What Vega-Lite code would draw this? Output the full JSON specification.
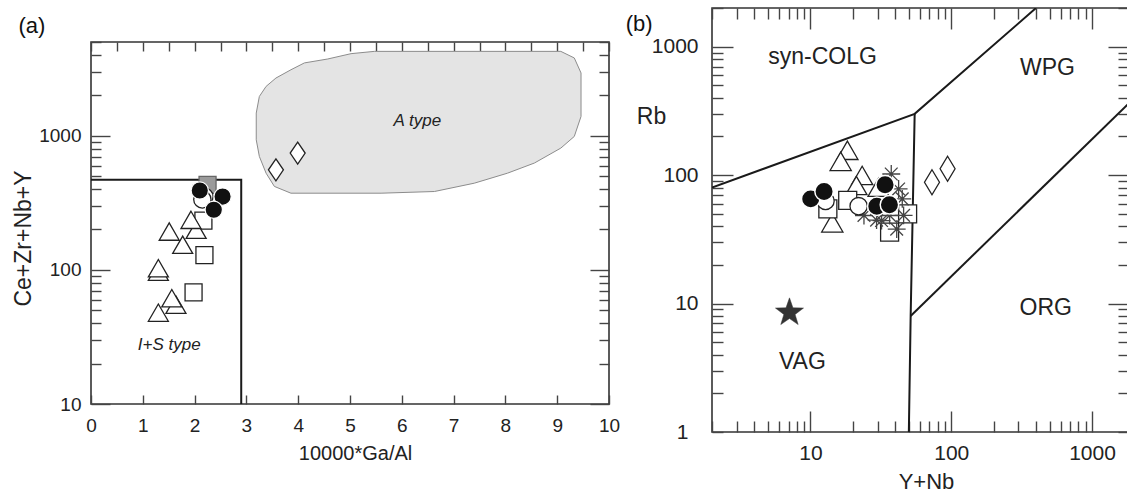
{
  "$schema": "https://vega.github.io/schema/vega-lite/v6.json",
  "background": "white",
  "padding": {"left": 11, "top": -4, "right": 0, "bottom": 0},
  "spacing": 3,
  "config": {
    "font": "Liberation Sans",
    "view": {"stroke": "#333", "strokeWidth": 1.6},
    "axis": {"grid": false, "domain": false, "tickColor": "#444", "tickWidth": 1.4, "labelColor": "#222", "titleColor": "#222", "labelFlush": false, "labelOverlap": false, "titleFontWeight": "normal", "labelFont": "Liberation Sans", "titleFont": "Liberation Sans"},
    "text": {"font": "Liberation Sans", "color": "#222"}
  },
  "hconcat": [
    {
      "spacing": 0,
      "vconcat": [
        {
          "width": 518,
          "height": 4,
          "view": {"stroke": null},
          "data": {"values": [{"k": 1}]},
          "mark": {"type": "point", "opacity": 0},
          "encoding": {}
        },
        {
          "width": 518,
          "height": 362,
          "data": {"values": [
            {"ga": 2.17, "sum": 233, "sym": "sq"},
            {"ga": 2.19, "sum": 129, "sym": "sq"},
            {"ga": 1.98, "sum": 68, "sym": "sq"},
            {"ga": 2.25, "sum": 430, "sym": "sqg"},
            {"ga": 1.64, "sum": 55, "sym": "tri"},
            {"ga": 1.56, "sum": 61.5, "sym": "tri"},
            {"ga": 1.30, "sum": 48, "sym": "tri"},
            {"ga": 1.30, "sum": 97, "sym": "tri"},
            {"ga": 1.30, "sum": 103, "sym": "tri"},
            {"ga": 1.77, "sum": 154, "sym": "tri"},
            {"ga": 1.51, "sum": 193, "sym": "tri"},
            {"ga": 2.03, "sum": 199, "sym": "tri"},
            {"ga": 1.93, "sum": 236, "sym": "tri"},
            {"ga": 2.19, "sum": 352, "sym": "cw"},
            {"ga": 2.15, "sum": 335, "sym": "cw"},
            {"ga": 2.10, "sum": 391, "sym": "cb"},
            {"ga": 2.54, "sum": 352, "sym": "cb"},
            {"ga": 2.37, "sum": 281, "sym": "cb"},
            {"ga": 3.57, "sum": 557, "sym": "dia"},
            {"ga": 3.99, "sum": 743, "sym": "dia"}
          ]},
          "layer": [
            {
              "data": {"values": [
                {"i": 0, "ga": 5.02, "sum": 4093}, {"i": 1, "ga": 5.47, "sum": 4257}, {"i": 2, "ga": 9.07, "sum": 4257},
                {"i": 3, "ga": 9.33, "sum": 3802}, {"i": 4, "ga": 9.46, "sum": 2938}, {"i": 5, "ga": 9.46, "sum": 1393},
                {"i": 6, "ga": 9.33, "sum": 988}, {"i": 7, "ga": 9.07, "sum": 809}, {"i": 8, "ga": 8.56, "sum": 626},
                {"i": 9, "ga": 8.04, "sum": 526}, {"i": 10, "ga": 7.40, "sum": 443}, {"i": 11, "ga": 6.63, "sum": 384},
                {"i": 12, "ga": 5.60, "sum": 373}, {"i": 13, "ga": 3.86, "sum": 373}, {"i": 14, "ga": 3.54, "sum": 419},
                {"i": 15, "ga": 3.38, "sum": 526}, {"i": 16, "ga": 3.25, "sum": 701}, {"i": 17, "ga": 3.19, "sum": 933},
                {"i": 18, "ga": 3.19, "sum": 1476}, {"i": 19, "ga": 3.25, "sum": 1963}, {"i": 20, "ga": 3.38, "sum": 2333},
                {"i": 21, "ga": 3.57, "sum": 2693}, {"i": 22, "ga": 3.86, "sum": 3105}, {"i": 23, "ga": 4.12, "sum": 3492},
                {"i": 24, "ga": 4.57, "sum": 3735}, {"i": 25, "ga": 5.02, "sum": 4093}
              ]},
              "mark": {"type": "line", "fill": "#e4e4e4", "stroke": "#8c8c8c", "strokeWidth": 1},
              "encoding": {
                "x": {"field": "ga", "type": "quantitative", "scale": {"domain": [0, 10], "nice": false, "zero": false},
                  "axis": {"orient": "bottom", "values": [0,0.5,1,1.5,2,2.5,3,3.5,4,4.5,5,5.5,6,6.5,7,7.5,8,8.5,9,9.5,10],
                    "format": "d", "labelExpr": "datum.value % 1 === 0 ? datum.label : ''", "tickSize": -9, "labelPadding": 21.5,
                    "labelFontSize": 19, "title": "10000*Ga/Al", "titleFontSize": 20, "titleX": 264, "titleY": 49,
                    "titleBaseline": "middle", "titleAlign": "center"}},
                "y": {"field": "sum", "type": "quantitative", "scale": {"type": "log", "domain": [10, 5000], "nice": false},
                  "axis": {"orient": "left", "values": [10,20,30,40,50,60,70,80,90,100,200,300,400,500,600,700,800,900,1000,2000,3000,4000,5000],
                    "format": "d", "labelExpr": "datum.value == 10 || datum.value == 100 || datum.value == 1000 ? datum.label : ''",
                    "tickSize": {"condition": {"test": "datum.value == 10 || datum.value == 100 || datum.value == 1000", "value": -19}, "value": -10},
                    "labelPadding": 29, "labelFontSize": 19, "title": "Ce+Zr+Nb+Y", "titleFontSize": 23, "titleX": -68, "titleY": 196,
                    "titleBaseline": "middle", "titleAlign": "center", "titleAngle": -90}},
                "order": {"field": "i", "type": "quantitative"}
              }
            },
            {
              "data": {"values": [
                {"i": 0, "ga": 0, "sum": 470}, {"i": 1, "ga": 2.9, "sum": 470}, {"i": 2, "ga": 2.9, "sum": 10}
              ]},
              "mark": {"type": "line", "stroke": "#1a1a1a", "strokeWidth": 2},
              "encoding": {
                "x": {"field": "ga", "type": "quantitative", "axis": null},
                "y": {"field": "sum", "type": "quantitative", "axis": null},
                "order": {"field": "i", "type": "quantitative"}
              }
            },
            {
              "transform": [{"filter": "datum.sym === 'sq'"}],
              "mark": {"type": "point", "shape": "square", "size": 289, "filled": true, "fill": "white", "stroke": "#222", "strokeWidth": 1.3, "opacity": 1},
              "encoding": {"x": {"field": "ga", "type": "quantitative", "axis": null}, "y": {"field": "sum", "type": "quantitative", "axis": null}}
            },
            {
              "transform": [{"filter": "datum.sym === 'sqg'"}],
              "mark": {"type": "point", "shape": "square", "size": 289, "filled": true, "fill": "#9a9a9a", "stroke": "#666", "strokeWidth": 1.3, "opacity": 1},
              "encoding": {"x": {"field": "ga", "type": "quantitative", "axis": null}, "y": {"field": "sum", "type": "quantitative", "axis": null}}
            },
            {
              "transform": [{"filter": "datum.sym === 'tri'"}],
              "mark": {"type": "point", "shape": "triangle-up", "size": 400, "filled": true, "fill": "white", "stroke": "#222", "strokeWidth": 1.3, "opacity": 1},
              "encoding": {"x": {"field": "ga", "type": "quantitative", "axis": null}, "y": {"field": "sum", "type": "quantitative", "axis": null}}
            },
            {
              "transform": [{"filter": "datum.sym === 'cw'"}],
              "mark": {"type": "point", "shape": "circle", "size": 300, "filled": true, "fill": "white", "stroke": "#222", "strokeWidth": 1.3, "opacity": 1},
              "encoding": {"x": {"field": "ga", "type": "quantitative", "axis": null}, "y": {"field": "sum", "type": "quantitative", "axis": null}}
            },
            {
              "transform": [{"filter": "datum.sym === 'cb'"}],
              "mark": {"type": "point", "shape": "circle", "size": 300, "filled": true, "fill": "#111", "stroke": "white", "strokeWidth": 1.2, "opacity": 1},
              "encoding": {"x": {"field": "ga", "type": "quantitative", "axis": null}, "y": {"field": "sum", "type": "quantitative", "axis": null}}
            },
            {
              "transform": [{"filter": "datum.sym === 'dia'"}],
              "mark": {"type": "point", "shape": "M0,-1L0.68,0L0,1L-0.68,0Z", "size": 484, "filled": true, "fill": "white", "stroke": "#222", "strokeWidth": 1.3, "opacity": 1},
              "encoding": {"x": {"field": "ga", "type": "quantitative", "axis": null}, "y": {"field": "sum", "type": "quantitative", "axis": null}}
            },
            {
              "data": {"values": [
                {"ga": 6.3, "sum": 1280, "label": "A type"},
                {"ga": 1.51, "sum": 27.5, "label": "I+S type"}
              ]},
              "mark": {"type": "text", "fontSize": 17, "fontStyle": "italic", "align": "center", "baseline": "middle", "color": "#222"},
              "encoding": {"x": {"field": "ga", "type": "quantitative", "axis": null}, "y": {"field": "sum", "type": "quantitative", "axis": null}, "text": {"field": "label"}}
            },
            {
              "data": {"values": [{"ga": -1.14, "sum": 6620, "label": "(a)"}]},
              "mark": {"type": "text", "fontSize": 22, "align": "center", "baseline": "middle", "color": "#111"},
              "encoding": {"x": {"field": "ga", "type": "quantitative", "axis": null}, "y": {"field": "sum", "type": "quantitative", "axis": null}, "text": {"field": "label"}}
            },
            {
              "data": {"values": [{"ga": 5, "sum": 100}]},
              "mark": {"type": "point", "opacity": 0},
              "encoding": {
                "x": {"field": "ga", "type": "quantitative",
                  "axis": {"orient": "top", "values": [0,0.5,1,1.5,2,2.5,3,3.5,4,4.5,5,5.5,6,6.5,7,7.5,8,8.5,9,9.5,10], "labels": false, "tickSize": -9, "title": null}},
                "y": {"field": "sum", "type": "quantitative",
                  "axis": {"orient": "right", "values": [10,20,30,40,50,60,70,80,90,100,200,300,400,500,600,700,800,900,1000,2000,3000,4000,5000], "labels": false,
                    "tickSize": {"condition": {"test": "datum.value == 10 || datum.value == 100 || datum.value == 1000", "value": -19}, "value": -10}, "title": null}}
              }
            }
          ],
          "resolve": {"axis": {"x": "independent", "y": "independent"}}
        }
      ]
    },
    {
      "width": 417,
      "height": 424,
      "data": {"values": [
        {"yn": 18.3, "rb": 156, "sym": "tri"},
        {"yn": 16.4, "rb": 128, "sym": "tri"},
        {"yn": 23.3, "rb": 99.5, "sym": "tri"},
        {"yn": 21.2, "rb": 83, "sym": "tri"},
        {"yn": 30.5, "rb": 80.6, "sym": "tri"},
        {"yn": 14.3, "rb": 42.5, "sym": "tri"},
        {"yn": 13.3, "rb": 54.6, "sym": "sq"},
        {"yn": 18.4, "rb": 63.6, "sym": "sq"},
        {"yn": 49, "rb": 49.9, "sym": "sq"},
        {"yn": 36.5, "rb": 36, "sym": "sq"},
        {"yn": 37.5, "rb": 102, "sym": "ast"},
        {"yn": 42.3, "rb": 78, "sym": "ast"},
        {"yn": 44.9, "rb": 65.3, "sym": "ast"},
        {"yn": 45.9, "rb": 48.6, "sym": "ast"},
        {"yn": 24, "rb": 48.5, "sym": "ast"},
        {"yn": 29.5, "rb": 44.6, "sym": "ast"},
        {"yn": 36.5, "rb": 48.5, "sym": "ast"},
        {"yn": 41, "rb": 38, "sym": "ast"},
        {"yn": 32, "rb": 44.3, "sym": "ast"},
        {"yn": 22, "rb": 57.3, "sym": "cw"},
        {"yn": 12.8, "rb": 63, "sym": "cw"},
        {"yn": 10.05, "rb": 65.3, "sym": "cb"},
        {"yn": 12.5, "rb": 74.6, "sym": "cb"},
        {"yn": 33.9, "rb": 84, "sym": "cb"},
        {"yn": 29.6, "rb": 57.3, "sym": "cb"},
        {"yn": 36.4, "rb": 58.7, "sym": "cb"},
        {"yn": 73, "rb": 88, "sym": "dia"},
        {"yn": 94.2, "rb": 112, "sym": "dia"},
        {"yn": 7.1, "rb": 8.5, "sym": "star"}
      ]},
      "layer": [
        {
          "data": {"values": [
            {"seg": "a", "i": 0, "yn": 2, "rb": 80}, {"seg": "a", "i": 1, "yn": 55, "rb": 300}, {"seg": "a", "i": 2, "yn": 400, "rb": 2000},
            {"seg": "b", "i": 0, "yn": 55, "rb": 300}, {"seg": "b", "i": 1, "yn": 51.5, "rb": 8}, {"seg": "b", "i": 2, "yn": 50, "rb": 1},
            {"seg": "c", "i": 0, "yn": 51.5, "rb": 8}, {"seg": "c", "i": 1, "yn": 2000, "rb": 400}
          ]},
          "mark": {"type": "line", "stroke": "#1a1a1a", "strokeWidth": 2, "clip": true},
          "encoding": {
            "x": {"field": "yn", "type": "quantitative", "scale": {"type": "log", "domain": [2, 1830], "nice": false},
              "axis": {"orient": "bottom", "values": [2,3,4,5,6,7,8,9,10,20,30,40,50,60,70,80,90,100,200,300,400,500,600,700,800,900,1000],
                "format": "d", "labelExpr": "datum.value == 10 || datum.value == 100 || datum.value == 1000 ? datum.label : ''",
                "tickSize": {"condition": {"test": "datum.value == 10 || datum.value == 100 || datum.value == 1000", "value": -21}, "value": -11},
                "labelPadding": 31.5, "labelFontSize": 21, "title": "Y+Nb", "titleFontSize": 22, "titleX": 214, "titleY": 49,
                "titleBaseline": "middle", "titleAlign": "center"}},
            "y": {"field": "rb", "type": "quantitative", "scale": {"type": "log", "domain": [1, 2000], "nice": false},
              "axis": {"orient": "left", "values": [1,2,3,4,5,6,7,8,9,10,20,30,40,50,60,70,80,90,100,200,300,400,500,600,700,800,900,1000,2000],
                "format": "d", "labelExpr": "datum.value == 1 || datum.value == 10 || datum.value == 100 || datum.value == 1000 ? datum.label : ''",
                "tickSize": {"condition": {"test": "datum.value == 10 || datum.value == 100 || datum.value == 1000", "value": -21}, "value": -11},
                "labelPadding": 35, "labelFontSize": 21, "title": "Rb", "titleFontSize": 23, "titleX": -61, "titleY": 108,
                "titleBaseline": "middle", "titleAlign": "center", "titleAngle": 0}},
            "detail": {"field": "seg"},
            "order": {"field": "i", "type": "quantitative"}
          }
        },
        {
          "transform": [{"filter": "datum.sym === 'tri'"}],
          "mark": {"type": "point", "shape": "triangle-up", "size": 450, "filled": true, "fill": "white", "stroke": "#222", "strokeWidth": 1.3, "opacity": 1},
          "encoding": {"x": {"field": "yn", "type": "quantitative", "axis": null}, "y": {"field": "rb", "type": "quantitative", "axis": null}}
        },
        {
          "transform": [{"filter": "datum.sym === 'sq'"}],
          "mark": {"type": "point", "shape": "square", "size": 324, "filled": true, "fill": "white", "stroke": "#222", "strokeWidth": 1.3, "opacity": 1},
          "encoding": {"x": {"field": "yn", "type": "quantitative", "axis": null}, "y": {"field": "rb", "type": "quantitative", "axis": null}}
        },
        {
          "transform": [{"filter": "datum.sym === 'ast'"}],
          "mark": {"type": "point", "shape": "M-1,0L1,0M0,-1L0,1M-0.71,-0.71L0.71,0.71M-0.71,0.71L0.71,-0.71", "size": 320, "filled": false, "stroke": "#444", "strokeWidth": 1.3, "opacity": 1},
          "encoding": {"x": {"field": "yn", "type": "quantitative", "axis": null}, "y": {"field": "rb", "type": "quantitative", "axis": null}}
        },
        {
          "transform": [{"filter": "datum.sym === 'cw'"}],
          "mark": {"type": "point", "shape": "circle", "size": 300, "filled": true, "fill": "white", "stroke": "#222", "strokeWidth": 1.3, "opacity": 1},
          "encoding": {"x": {"field": "yn", "type": "quantitative", "axis": null}, "y": {"field": "rb", "type": "quantitative", "axis": null}}
        },
        {
          "transform": [{"filter": "datum.sym === 'cb'"}],
          "mark": {"type": "point", "shape": "circle", "size": 340, "filled": true, "fill": "#111", "stroke": "white", "strokeWidth": 1.5, "opacity": 1},
          "encoding": {"x": {"field": "yn", "type": "quantitative", "axis": null}, "y": {"field": "rb", "type": "quantitative", "axis": null}}
        },
        {
          "transform": [{"filter": "datum.sym === 'dia'"}],
          "mark": {"type": "point", "shape": "M0,-1L0.6,0L0,1L-0.6,0Z", "size": 625, "filled": true, "fill": "white", "stroke": "#222", "strokeWidth": 1.3, "opacity": 1},
          "encoding": {"x": {"field": "yn", "type": "quantitative", "axis": null}, "y": {"field": "rb", "type": "quantitative", "axis": null}}
        },
        {
          "transform": [{"filter": "datum.sym === 'star'"}],
          "mark": {"type": "point", "shape": "M0,-1L0.235,-0.324L0.951,-0.309L0.38,0.124L0.588,0.809L0,0.4L-0.588,0.809L-0.38,0.124L-0.951,-0.309L-0.235,-0.324Z", "size": 870, "filled": true, "fill": "#333", "stroke": "#333", "strokeWidth": 0.5, "opacity": 1},
          "encoding": {"x": {"field": "yn", "type": "quantitative", "axis": null}, "y": {"field": "rb", "type": "quantitative", "axis": null}}
        },
        {
          "data": {"values": [
            {"yn": 12.2, "rb": 836, "label": "syn-COLG"},
            {"yn": 482, "rb": 677, "label": "WPG"},
            {"yn": 469, "rb": 9.2, "label": "ORG"},
            {"yn": 8.77, "rb": 3.53, "label": "VAG"}
          ]},
          "mark": {"type": "text", "fontSize": 23, "align": "center", "baseline": "middle", "color": "#222"},
          "encoding": {"x": {"field": "yn", "type": "quantitative", "axis": null}, "y": {"field": "rb", "type": "quantitative", "axis": null}, "text": {"field": "label"}}
        },
        {
          "data": {"values": [{"yn": 0.607, "rb": 1503, "label": "(b)"}]},
          "mark": {"type": "text", "fontSize": 22, "align": "center", "baseline": "middle", "color": "#111"},
          "encoding": {"x": {"field": "yn", "type": "quantitative", "axis": null}, "y": {"field": "rb", "type": "quantitative", "axis": null}, "text": {"field": "label"}}
        },
        {
          "data": {"values": [{"yn": 100, "rb": 100}]},
          "mark": {"type": "point", "opacity": 0},
          "encoding": {
            "x": {"field": "yn", "type": "quantitative",
              "axis": {"orient": "top", "values": [2,3,4,5,6,7,8,9,10,20,30,40,50,60,70,80,90,100,200,300,400,500,600,700,800,900,1000], "labels": false,
                "tickSize": {"condition": {"test": "datum.value == 10 || datum.value == 100 || datum.value == 1000", "value": -21}, "value": -11}, "title": null}},
            "y": {"field": "rb", "type": "quantitative",
              "axis": {"orient": "right", "values": [1,2,3,4,5,6,7,8,9,10,20,30,40,50,60,70,80,90,100,200,300,400,500,600,700,800,900,1000,2000], "labels": false,
                "tickSize": {"condition": {"test": "datum.value == 10 || datum.value == 100 || datum.value == 1000", "value": -21}, "value": -11}, "title": null}}
          }
        }
      ],
      "resolve": {"axis": {"x": "independent", "y": "independent"}}
    }
  ]
}
